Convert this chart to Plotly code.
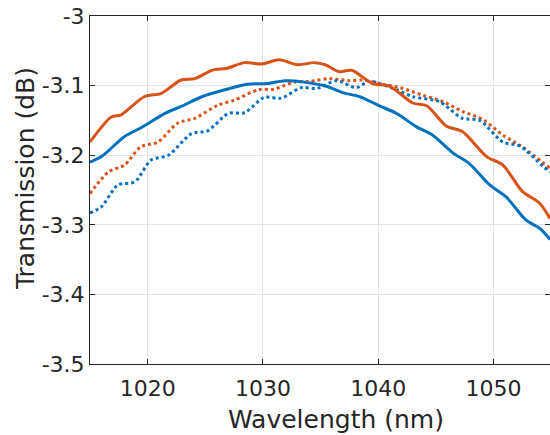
import plotly.graph_objects as go

# Solid orange
x_so = [1015.0, 1016.85, 1017.7, 1019.7, 1021.2, 1022.9, 1024.1, 1025.6, 1026.9, 1028.4, 1029.9, 1031.4, 1033.0, 1034.5, 1035.4,
        1036.6, 1037.7, 1039.5, 1041.0, 1043.0, 1044.2, 1045.9, 1047.3, 1049.4, 1050.8, 1052.5, 1054.0, 1054.9]
y_so = [-3.181, -3.145, -3.142, -3.116, -3.111, -3.092, -3.090, -3.078, -3.075, -3.067, -3.069, -3.063, -3.070, -3.067, -3.070,
        -3.080, -3.078, -3.097, -3.101, -3.125, -3.129, -3.158, -3.166, -3.202, -3.214, -3.252, -3.269, -3.291]

# Solid blue
x_sb = [1015.0, 1016.0, 1018.0, 1019.4, 1021.5, 1022.9, 1024.7, 1026.7, 1028.7, 1030.4, 1031.9, 1033.6, 1035.5,
        1036.9, 1038.4, 1040.1, 1041.6, 1043.3, 1044.7, 1046.5, 1047.9, 1049.7, 1051.1, 1052.8, 1054.0, 1054.9]
y_sb = [-3.210, -3.202, -3.173, -3.161, -3.140, -3.130, -3.116, -3.106, -3.098, -3.097, -3.093, -3.095, -3.101,
        -3.110, -3.116, -3.129, -3.140, -3.159, -3.171, -3.197, -3.212, -3.243, -3.260, -3.293, -3.305, -3.321]

# Dotted orange
x_do = [1015.0, 1016.6, 1018.0, 1019.4, 1020.9, 1022.6, 1024.1, 1026.1, 1027.5, 1029.6, 1031.0, 1032.7, 1034.0, 1035.8,
        1037.5, 1038.7, 1040.1, 1041.9, 1043.9, 1045.6, 1047.3, 1049.1, 1050.8, 1052.5, 1054.9]
y_do = [-3.255, -3.224, -3.214, -3.188, -3.181, -3.154, -3.147, -3.128, -3.121, -3.106, -3.105, -3.095, -3.094, -3.090,
        -3.093, -3.092, -3.097, -3.103, -3.114, -3.123, -3.137, -3.149, -3.171, -3.188, -3.219]

# Dotted blue
x_db = [1015.0, 1016.0, 1017.4, 1018.9, 1020.3, 1021.8, 1023.8, 1025.2, 1027.0, 1028.4, 1030.1, 1031.6, 1033.3, 1034.7,
        1036.4, 1038.1, 1039.2, 1041.6, 1043.0, 1045.3, 1047.3, 1048.8, 1050.8, 1052.3, 1054.3, 1054.9]
y_db = [-3.283, -3.274, -3.243, -3.238, -3.207, -3.200, -3.169, -3.165, -3.140, -3.139, -3.117, -3.118, -3.103, -3.104,
        -3.093, -3.103, -3.094, -3.106, -3.116, -3.123, -3.147, -3.150, -3.181, -3.187, -3.216, -3.224]

x_ticks = [1020, 1030, 1040, 1050]
y_ticks = [-3.5, -3.4, -3.3, -3.2, -3.1, -3.0]
y_ticklabels = ["-3.5", "-3.4", "-3.3", "-3.2", "-3.1", "-3"]
x_title = "Wavelength (nm)"
y_title = "Transmission (dB)"

BLUE = "#0072BD"
ORANGE = "#D95319"
TXT = "#262626"
FONT = "DejaVu Sans"

fig = go.Figure()
fig.add_trace(go.Scatter(x=x_do, y=y_do, mode="lines", line=dict(color=ORANGE, width=3, dash="dot", shape="spline", smoothing=0.8)))
fig.add_trace(go.Scatter(x=x_db, y=y_db, mode="lines", line=dict(color=BLUE, width=3, dash="dot", shape="spline", smoothing=0.8)))
fig.add_trace(go.Scatter(x=x_so, y=y_so, mode="lines", line=dict(color=ORANGE, width=3, shape="spline", smoothing=0.8)))
fig.add_trace(go.Scatter(x=x_sb, y=y_sb, mode="lines", line=dict(color=BLUE, width=3, shape="spline", smoothing=0.8)))

axis_common = dict(
    showline=True, linecolor=TXT, linewidth=1, mirror="ticks",
    ticks="inside", ticklen=5, tickcolor=TXT, tickwidth=1,
    showgrid=True, gridcolor="#e4e4e4", gridwidth=1, zeroline=False,
    tickfont=dict(family=FONT, size=22, color=TXT),
)

fig.update_layout(
    width=550, height=435,
    margin=dict(l=90, r=0, t=16, b=71),
    paper_bgcolor="white", plot_bgcolor="white",
    showlegend=False,
    xaxis=dict(range=[1015, 1054.9], tickvals=x_ticks, ticklabelstandoff=5, **axis_common),
    yaxis=dict(range=[-3.5, -3.0], tickvals=y_ticks, ticktext=y_ticklabels, **axis_common),
    annotations=[
        dict(text=x_title, xref="paper", yref="paper", x=(336 - 90) / 460, y=0, xanchor="center", yanchor="middle",
             yshift=-55, showarrow=False, font=dict(family=FONT, size=25, color=TXT)),
        dict(text=y_title, xref="paper", yref="paper", x=0, y=(364 - 179) / 348, xanchor="center", yanchor="middle",
             xshift=-64, textangle=-90, showarrow=False, font=dict(family=FONT, size=25, color=TXT)),
    ],
)

fig.write_html("out.html")
